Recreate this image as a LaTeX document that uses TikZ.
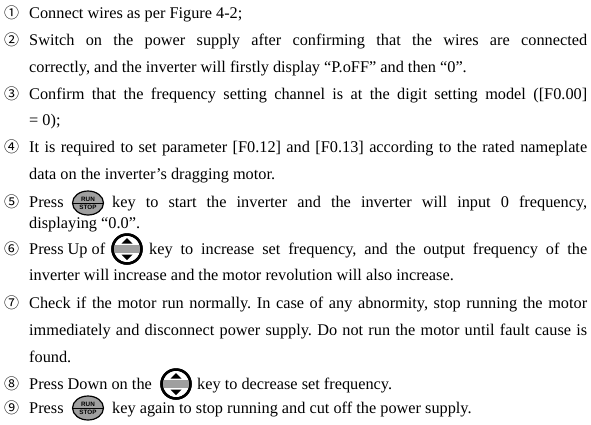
\documentclass[tikz,border=0pt]{standalone}
\usepackage{fontspec}
\setmainfont{Liberation Serif}
\setsansfont{Liberation Sans}
\newfontfamily\circfont{Noto Sans CJK SC}
\usetikzlibrary{positioning,shapes.geometric}

\newcommand{\fullline}[2]{\makebox[#1pt][s]{#2}}

\tikzset{
  num/.style={anchor=base west, inner sep=0pt, font=\circfont\fontsize{15pt}{17pt}\selectfont},
  txt/.style={anchor=base west, inner sep=0pt},
  runstop/.style={draw, ellipse, line width=1.2pt, fill=gray!75,
    minimum width=31pt, minimum height=24pt, inner sep=0pt},
  updown/.style={draw, circle, line width=2.5pt, fill=white,
    minimum size=29pt, inner sep=0pt},
  keylbl/.style={inner sep=0pt, font=\sffamily\bfseries\fontsize{6.3pt}{7pt}\selectfont},
}

\begin{document}
\frenchspacing
\begin{tikzpicture}[x=1pt,y=-1pt,font=\fontsize{16.3pt}{19pt}\selectfont]
  \useasboundingbox (0,0) rectangle (591,424);

  % item 1
  \node[num] (n1) at (4,18) {①};
  \node[txt] (t1) at (29,18) {Connect wires as per Figure 4-2;};
  % item 2
  \node[num] (n2) at (4,45) {②};
  \node[txt] (t2a) at (29,45) {\fullline{558}{Switch on the power supply after confirming that the wires are connected}};
  \node[txt] (t2b) at (29,72) {correctly, and the inverter will firstly display “P.oFF” and then “0”.};
  % item 3
  \node[num] (n3) at (4,99) {③};
  \node[txt] (t3a) at (29,99) {\fullline{558}{Confirm that the frequency setting channel is at the digit setting model ([F0.00]}};
  \node[txt] (t3b) at (29,125) {= 0);};
  % item 4
  \node[num] (n4) at (4,152) {④};
  \node[txt] (t4a) at (29,152) {\fullline{558}{It is required to set parameter [F0.12] and [F0.13] according to the rated nameplate}};
  \node[txt] (t4b) at (29,179) {data on the inverter’s dragging motor.};
  % item 5
  \node[num] (n5) at (4,207) {⑤};
  \node[txt] (t5a) at (29,207) {Press};
  \node[txt] (t5b) at (112,207) {\fullline{475}{key to start the inverter and the inverter will input 0 frequency,}};
  \node[txt] (t5c) at (29,228) {displaying “0.0”.};
  % item 6
  \node[num] (n6) at (4,254) {⑥};
  \node[txt] (t6a) at (29,254) {Press Up of};
  \node[txt] (t6b) at (149,254) {\fullline{438}{key to increase set frequency, and the output frequency of the}};
  \node[txt] (t6c) at (29,280) {inverter will increase and the motor revolution will also increase.};
  % item 7
  \node[num] (n7) at (4,308) {⑦};
  \node[txt] (t7a) at (29,308) {\fullline{558}{Check if the motor run normally. In case of any abnormity, stop running the motor}};
  \node[txt] (t7b) at (29,335) {\fullline{558}{immediately and disconnect power supply. Do not run the motor until fault cause is}};
  \node[txt] (t7c) at (29,362) {found.};
  % item 8
  \node[num] (n8) at (4,389) {⑧};
  \node[txt] (t8a) at (29,389) {Press Down on the};
  \node[txt] (t8b) at (197,389) {key to decrease set frequency.};
  % item 9
  \node[num] (n9) at (4,413) {⑨};
  \node[txt] (t9a) at (29,413) {Press};
  \node[txt] (t9b) at (112,413) {key again to stop running and cut off the power supply.};

  % RUN/STOP keys
  \foreach \k/\x/\y in {k5/88/203, k9/88/408}{
    \node[runstop] (\k) at (\x,\y) {};
    \draw[line width=0.9pt] (\k.west) -- (\k.east);
    \node[keylbl, above=1.3pt of \k.center] (\k run) {RUN};
    \node[keylbl, below=1.6pt of \k.center] (\k stop) {STOP};
  }

  % up/down keys
  \foreach \k/\x/\y in {u6/127/249, u8/176/384}{
    \node[updown] (\k) at (\x,\y) {};
    \begin{scope}
      \clip (\k.center) circle (14);
      \fill[gray!75] ([yshift=-3.8pt]\k.west) rectangle ([yshift=3.8pt]\k.east);
    \end{scope}
    \fill ([yshift=5.5pt]\k.center) ++(-5.5,0) -- ++(11,0) -- ++(-5.5,-5.5) -- cycle;
    \fill ([yshift=-5.5pt]\k.center) ++(-5.5,0) -- ++(11,0) -- ++(-5.5,5.5) -- cycle;
    \draw[line width=2.5pt] (\k.center) circle (14.5);
  }
\end{tikzpicture}
\end{document}
